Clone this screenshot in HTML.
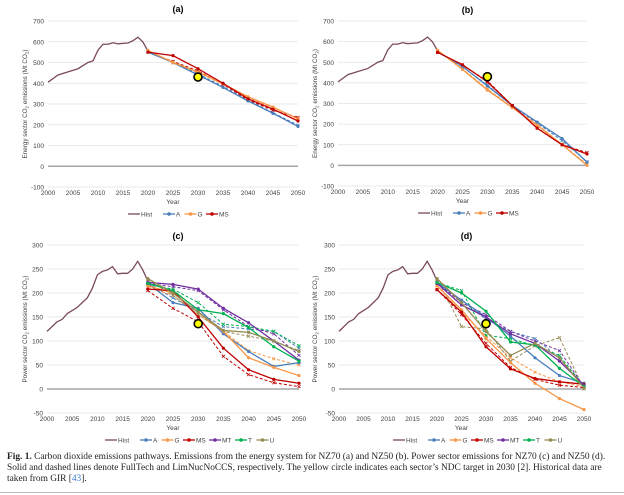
<!DOCTYPE html>
<html><head><meta charset="utf-8"><style>
body{margin:0;background:#fff;width:624px;height:495px;overflow:hidden;position:relative}
svg{position:absolute;left:0;top:0}
.cap{position:absolute;left:7px;top:452px;width:608px;font-family:"Liberation Serif",serif;font-size:9.4px;line-height:11.2px;color:#222}
.cap a{color:#3a7bd5}
.rule{position:absolute;left:0;top:492px;width:624px;height:1px;background:#bbb}
</style></head><body>
<svg id="s" width="624" height="495" xmlns="http://www.w3.org/2000/svg" font-family="Liberation Sans, sans-serif"></svg>
<div class="cap"><b>Fig. 1.</b> Carbon dioxide emissions pathways. Emissions from the energy system for NZ70 (a) and NZ50 (b). Power sector emissions for NZ70 (c) and NZ50 (d). Solid and dashed lines denote FullTech and LimNucNoCCS, respectively. The yellow circle indicates each sector’s NDC target in 2030 [2]. Historical data are taken from GIR [<a>43</a>].</div>
<div class="rule"></div>
<script>
const S=document.getElementById('s');let h='';
const C={Hist:'#7b4a5a',A:'#4a7ebb',G:'#f79646',MS:'#c00000',MT:'#7030a0',T:'#00b050',U:'#948a54'};
const yrs=[2020,2025,2030,2035,2040,2045,2050];
function panel(p){
 const X=v=>p.x0+(v-2000)/50*(p.x1-p.x0);
 const Y=v=>p.yt+(p.ymax-v)/(p.ymax-p.ymin)*(p.yb-p.yt);
 for(let v=p.ymin;v<=p.ymax;v+=p.step){
  const y=Y(v);
  if(v===0)h+=`<line x1="${p.x0}" x2="${p.x1}" y1="${y}" y2="${y}" stroke="#a6a6a6" stroke-width="1.5"/>`;
  else h+=`<line x1="${p.x0}" x2="${p.x1}" y1="${y}" y2="${y}" stroke="#e3e3e3" stroke-width="0.7"/>`;
  h+=`<text x="${p.x0-4}" y="${y+2.5}" font-size="6.5" text-anchor="end" fill="#444">${v}</text>`;
 }
 for(let v=2000;v<=2050;v+=5)h+=`<text x="${X(v)}" y="${p.yb+8}" font-size="6.5" text-anchor="middle" fill="#444">${v}</text>`;
 h+=`<text x="${(p.x0+p.x1)/2}" y="${p.yb+17}" font-size="6.5" text-anchor="middle" fill="#444">Year</text>`;
 h+=`<text x="${(p.x0+p.x1)/2+5}" y="${p.tt}" font-size="9" font-weight="bold" text-anchor="middle">${p.title}</text>`;
 const ym=(p.yt+p.yb)/2;
 h+=`<text transform="translate(${p.lx},${ym}) rotate(-90)" font-size="6.3" text-anchor="middle" fill="#444">${p.ylab} CO<tspan font-size="4.5" dy="1.5">2</tspan><tspan dy="-1.5"> emissions (Mt CO</tspan><tspan font-size="4.5" dy="1.5">2</tspan><tspan dy="-1.5">)</tspan></text>`;
 const hp=p.hist.map(d=>X(d[0])+','+Y(d[1])).join(' ');
 h+=`<polyline points="${hp}" fill="none" stroke="${C.Hist}" stroke-width="1.3"/>`;
 for(const s of p.series){
  const pts=s.v.map((v,i)=>[X(yrs[i]),Y(v)]);
  h+=`<polyline points="${pts.map(q=>q.join(',')).join(' ')}" fill="none" stroke="${C[s.k]}" stroke-width="${s.d?1:1.3}" ${s.d?'stroke-dasharray="3,2"':''}/>`;
  for(const q of pts){
   if(s.d)h+=`<path d="M${q[0]-1.5},${q[1]-1.5}l3,3m0,-3l-3,3" stroke="${C[s.k]}" stroke-width="0.8"/>`;
   else h+=`<circle cx="${q[0]}" cy="${q[1]}" r="1.6" fill="${C[s.k]}"/>`;
  }
 }
 h+=`<circle cx="${X(2030)}" cy="${Y(p.ndc)}" r="4" fill="#ffff00" stroke="#000" stroke-width="1.6"/>`;
 let lx=p.legx;const ly=p.yb+27;
 for(const k of p.leg){
  h+=`<line x1="${lx}" x2="${lx+12}" y1="${ly}" y2="${ly}" stroke="${C[k]}" stroke-width="1.3"/>`;
  if(k!=='Hist')h+=`<circle cx="${lx+6}" cy="${ly}" r="1.8" fill="${C[k]}"/>`;
  h+=`<text x="${lx+13}" y="${ly+2.3}" font-size="6.5" fill="#444">${k}</text>`;
  lx+=14+k.length*4.5+3;
 }
}
const hE=[[2000,405],[2002,440],[2004,455],[2006,470],[2008,500],[2009,508],[2010,560],[2011,588],[2012,588],[2013,595],[2014,590],[2015,592],[2016,594],[2017,605],[2018,622],[2019,598],[2020,555]];
const hP=[[2000,120],[2002,140],[2003,145],[2004,157],[2006,170],[2008,190],[2009,210],[2010,238],[2011,245],[2012,248],[2013,255],[2014,240],[2015,241],[2016,241],[2017,250],[2018,266],[2019,248],[2020,225]];
panel({x0:48,x1:298,yt:21,yb:187,ymin:-100,ymax:700,step:100,title:'(a)',tt:12,lx:27,ylab:'Energy sector',hist:hE,ndc:430,legx:128,leg:['Hist','A','G','MS'],
 series:[{k:'A',d:1,v:[550,502,445,385,318,258,198]},{k:'G',d:1,v:[556,498,452,395,330,282,232]},{k:'MS',d:1,v:[550,505,460,395,320,270,235]},
 {k:'A',v:[550,500,440,380,315,255,192]},{k:'G',v:[558,500,455,397,335,285,228]},{k:'MS',v:[550,533,470,400,325,275,218]}]});
panel({x0:338,x1:587,yt:21,yb:186,ymin:-100,ymax:700,step:100,title:'(b)',tt:13,lx:317,ylab:'Energy sector',hist:hE,ndc:430,legx:418,leg:['Hist','A','G','MS'],
 series:[{k:'A',d:1,v:[550,478,390,288,205,120,18]},{k:'G',d:1,v:[556,468,370,282,198,102,5]},{k:'MS',d:1,v:[548,485,410,290,182,100,62]},
 {k:'A',v:[550,480,385,290,210,130,15]},{k:'G',v:[558,465,365,280,195,100,0]},{k:'MS',v:[548,488,405,290,180,100,55]}]});
panel({x0:47,x1:299,yt:245,yb:413,ymin:-50,ymax:300,step:50,title:'(c)',tt:239,lx:27,ylab:'Power sector',hist:hP,ndc:136,legx:105,leg:['Hist','A','G','MS','MT','T','U'],
 series:[{k:'A',d:1,v:[220,190,160,130,125,120,85]},{k:'G',d:1,v:[212,195,155,120,80,63,50]},{k:'MS',d:1,v:[205,168,140,68,30,13,5]},{k:'MT',d:1,v:[220,213,205,165,130,115,70]},{k:'T',d:1,v:[218,208,180,135,130,120,90]},{k:'U',d:1,v:[228,195,155,120,110,100,80]},
 {k:'A',v:[220,180,168,115,78,47,55]},{k:'G',v:[215,200,160,120,65,45,28]},{k:'MS',v:[208,205,150,85,40,20,12]},{k:'MT',v:[222,218,208,168,138,100,60]},{k:'T',v:[220,205,165,157,128,88,58]},{k:'U',v:[230,200,160,122,118,100,78]}]});
panel({x0:339,x1:584,yt:245,yb:413,ymin:-50,ymax:300,step:50,title:'(d)',tt:239,lx:317,ylab:'Power sector',hist:hP,ndc:136,legx:393,leg:['Hist','A','G','MS','MT','T','U'],
 series:[{k:'A',d:1,v:[220,185,145,120,105,65,5]},{k:'G',d:1,v:[215,160,110,65,35,15,5]},{k:'MS',d:1,v:[207,155,95,45,20,8,3]},{k:'MT',d:1,v:[222,180,155,120,100,80,5]},{k:'T',d:1,v:[222,205,112,105,90,70,5]},{k:'U',d:1,v:[230,130,125,58,90,107,0]},
 {k:'A',v:[222,185,150,110,65,28,12]},{k:'G',v:[215,165,105,55,12,-20,-43]},{k:'MS',v:[207,160,88,42,22,15,10]},{k:'MT',v:[220,175,150,115,95,58,8]},{k:'T',v:[222,200,162,98,92,43,5]},{k:'U',v:[230,180,120,70,95,65,2]}]});
S.innerHTML=h;
</script>
</body></html>
